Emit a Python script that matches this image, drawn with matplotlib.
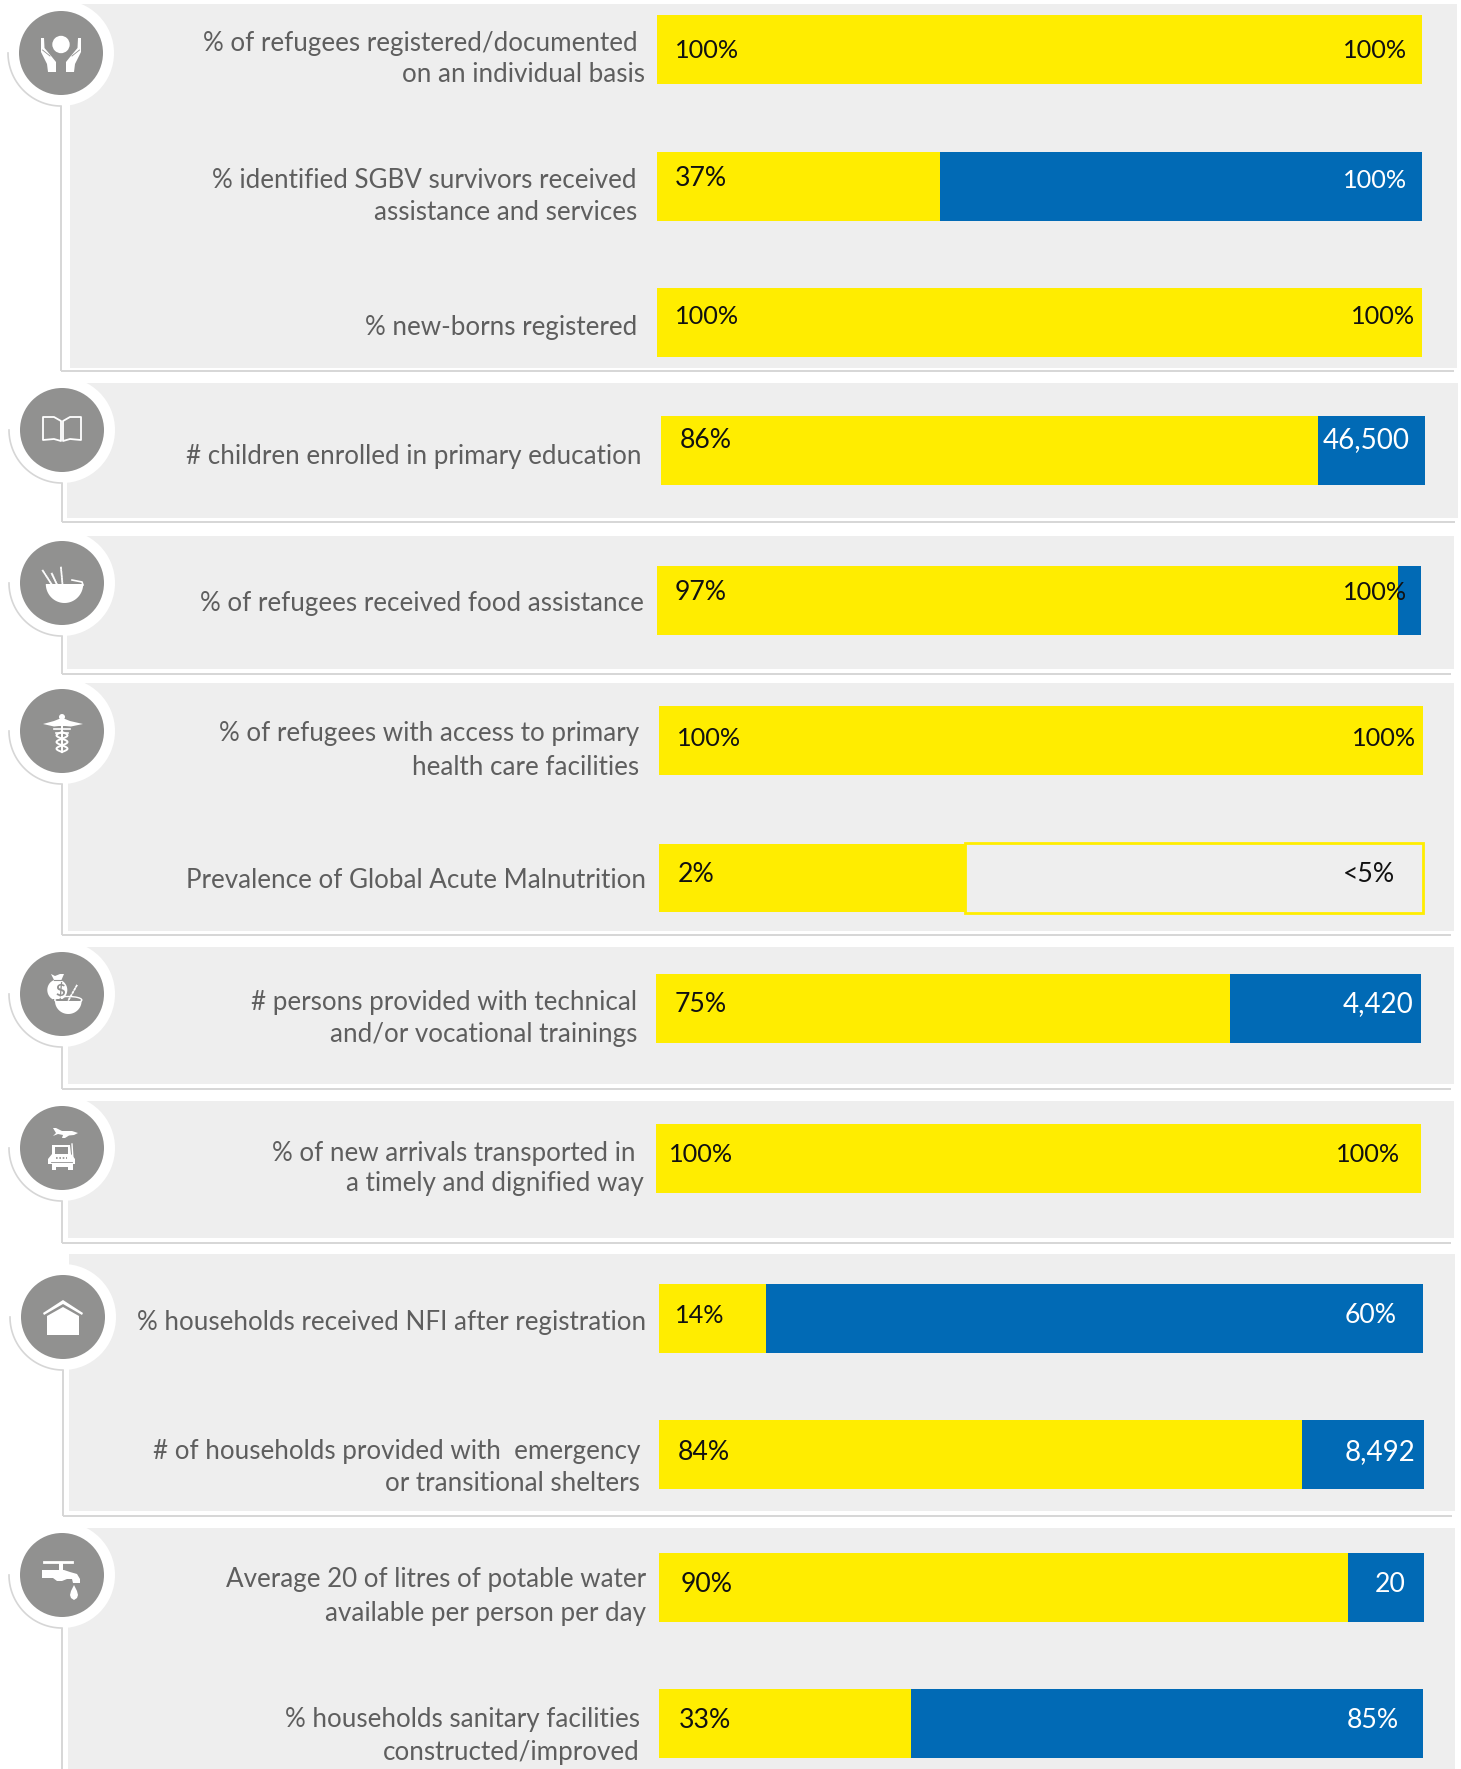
import numpy as np
import matplotlib
matplotlib.use('Agg')
import matplotlib.pyplot as plt
from matplotlib.patches import Circle, Ellipse, Polygon, Rectangle

W, H = 1461, 1769

# achieved value and the scale it is measured against, one entry per indicator
achieved = [100, 37, 100, 86, 97, 100, 2, 75, 100, 14, 84, 90, 33]
scale_max = [100, 100, 100, 100, 100, 100, 5, 100, 100, 100, 100, 100, 100]
left_labels = ['100%', '37%', '100%', '86%', '97%', '100%', '2%', '75%', '100%', '14%', '84%', '90%', '33%']
right_labels = ['100%', '100%', '100%', '46,500', '100%', '100%', '<5%', '4,420', '100%', '60%', '8,492', '20', '85%']
indicator_lines = [
    ['% of refugees registered/documented', 'on an individual basis'],
    ['% identified SGBV survivors received', 'assistance and services'],
    ['% new-borns registered'],
    ['# children enrolled in primary education'],
    ['% of refugees received food assistance'],
    ['% of refugees with access to primary', 'health care facilities'],
    ['Prevalence of Global Acute Malnutrition'],
    ['# persons provided with technical', 'and/or vocational trainings'],
    ['% of new arrivals transported in', 'a timely and dignified way'],
    ['% households received NFI after registration'],
    ['# of households provided with  emergency', 'or transitional shelters'],
    ['Average 20 of litres of potable water', 'available per person per day'],
    ['% households sanitary facilities', 'constructed/improved'],
]

YELLOW = '#FFED00'
BLUE = '#016AB5'
PANEL = '#EEEEEE'
DISC = '#919190'
RULE = '#D6D6D6'
TEXT = '#5E5E5E'

# pixel layout of the bars: left, right, top, bottom
bar_boxes = [
    (657, 1422, 15, 84), (657, 1422, 152, 221), (657, 1422, 288, 357),
    (661, 1425, 416, 485), (657, 1421, 566, 635), (659, 1423, 706, 775),
    (659, 1423, 844, 912), (656, 1421, 974, 1043), (656, 1421, 1124, 1193),
    (659, 1423, 1284, 1353), (659, 1424, 1420, 1489), (659, 1424, 1553, 1622),
    (659, 1423, 1689, 1758),
]
# right end and centre height of every text line
line_pos = [
    [(638, 43), (645, 75)], [(637, 180), (637, 212)], [(637, 327)], [(641, 456)],
    [(644, 604)], [(639, 734), (639, 767)], [(646, 881)], [(637, 1002), (637, 1034)],
    [(636, 1153), (644, 1184)], [(646, 1322)], [(640, 1451), (640, 1483)],
    [(646, 1580), (646, 1613)], [(640, 1719), (640, 1752)],
]
left_pos = [(675, 50), (675, 179), (675, 316), (680, 440), (675, 592), (677, 739), (678, 874),
            (675, 1004), (669, 1155), (675, 1315), (678, 1452), (681, 1584), (679, 1720)]
right_pos = [(1407, 51), (1407, 181), (1415, 317), (1410, 440), (1407, 592), (1416, 739), (1395, 874),
             (1413, 1004), (1400, 1155), (1397, 1315), (1415, 1452), (1406, 1584), (1399, 1720)]
# section panels: left, right, top, bottom, rule height, disc centre x, disc centre y, icon
sections = [
    (70, 1457, 4, 368, 371, 61, 53, 'hands'),
    (67, 1458, 383, 518, 522, 62, 430, 'book'),
    (67, 1454, 536, 669, 674, 62, 583, 'bowl'),
    (68, 1454, 683, 931, 935, 62, 731, 'caduceus'),
    (68, 1454, 947, 1084, 1089, 62, 994, 'bag'),
    (68, 1454, 1101, 1238, 1243, 62, 1148, 'truck'),
    (69, 1455, 1254, 1511, 1516, 63, 1317, 'house'),
    (68, 1455, 1528, 1769, None, 62, 1575, 'tap'),
]

plt.rcParams['font.family'] = ['Lato', 'DejaVu Sans']

fig = plt.figure(figsize=(W / 100, H / 100), dpi=100, facecolor='white')
bg = fig.add_axes([0, 0, 1, 1], zorder=0)
bg.set_xlim(0, W)
bg.set_ylim(H, 0)
bg.axis('off')


def poly(cx, cy, pts, color='white', z=6):
    bg.add_patch(Polygon([(cx + x, cy + y) for x, y in pts], closed=True, fc=color, ec='none', zorder=z))


def wheat(cx, cy, x0, y0, x1, y1, n=8):
    # a wheat ear is a stem with a row of small grains on it
    bg.plot([cx + x0, cx + x1], [cy + y0, cy + y1], color='white', lw=0.6, zorder=6)
    angle = np.degrees(np.arctan2(y1 - y0, x1 - x0))
    for t in np.linspace(0.15, 1, n):
        x = cx + x0 + (x1 - x0) * t
        y = cy + y0 + (y1 - y0) * t
        for tilt in (30, -30):
            bg.add_patch(Ellipse((x, y), 3.2, 1.3, angle=angle + tilt, fc='white', ec='none', alpha=0.85, zorder=6))


def half_bowl(cx, cy, rx, ry, color='white', z=6):
    t = np.linspace(0, np.pi, 40)
    poly(cx, cy, [(rx * np.cos(a), ry * np.sin(a)) for a in t], color=color, z=z)


def draw_icon(kind, cx, cy):
    if kind == 'hands':
        bg.add_patch(Circle((cx, cy - 8.5), 8.7, fc='white', ec='none', zorder=6))
        hand = [(-20, -15), (-17, -15), (-16.5, -5), (-9, 4), (-5, 9), (-5, 19), (-13, 19), (-14, 11), (-20, -1)]
        for sign in (1, -1):
            poly(cx, cy, [(sign * x, y) for x, y in hand])
            bg.plot([cx + sign * -18.5, cx + sign * -11], [cy - 3, cy + 3], color=DISC, lw=0.6, zorder=7)
    elif kind == 'book':
        page = [(-1, -9), (-8, -13), (-19, -13), (-19, 10), (-8, 9), (-1, 11)]
        for sign in (1, -1):
            bg.add_patch(Polygon([(cx + sign * x, cy + y) for x, y in page], closed=True, fc='none', ec='white', lw=1.3,
                                 joinstyle='round', zorder=6))
    elif kind == 'bowl':
        half_bowl(cx + 2.5, cy + 1, 18.7, 19)
        bg.plot([cx + 10, cx + 20, cx + 21], [cy - 3, cy - 1, cy + 2], color='white', lw=1.2, zorder=6)
        wheat(cx, cy, -8, 5, -19, -12)
        wheat(cx, cy, 1, 7, -1, -15)
        wheat(cx, cy, -3, 6, -10, -9)
    elif kind == 'caduceus':
        poly(cx, cy, [(-19, -7), (-8, -10), (-3, -12), (3, -12), (8, -10), (21, -7), (9, -4.5), (3, -5), (-3, -5), (-8, -4.5)])
        bg.add_patch(Circle((cx, cy - 14), 3, fc='white', ec='none', zorder=6))
        bg.plot([cx, cx], [cy - 12, cy + 21], color='white', lw=1.4, zorder=6)
        bg.plot([cx - 8, cx + 8], [cy - 2.5, cy - 2.5], color='white', lw=1.2, zorder=6)
        bg.plot([cx - 6, cx + 6], [cy + 2, cy + 2], color='white', lw=1.2, zorder=6)
        t = np.linspace(0, 1, 60)
        for sign in (1, -1):
            bg.plot(cx + sign * 5.5 * np.sin(t * 3 * np.pi), cy + 1 + 20 * t, color='white', lw=1.4, zorder=6)
    elif kind == 'bag':
        bg.add_patch(Ellipse((cx - 4.7, cy - 4), 20, 21, fc='white', ec='none', zorder=6))
        poly(cx, cy, [(-11, -20), (-7, -18), (-2, -20), (2, -20), (-1, -13), (-7.5, -13)])
        bg.plot([cx - 8, cx - 1], [cy - 14.5, cy - 14.5], color=DISC, lw=0.8, zorder=7)
        bg.text(cx - 2, cy - 4, '$', color=DISC, fontsize=12, fontweight='bold', ha='center', va='center', zorder=7)
        half_bowl(cx + 6.3, cy + 5, 15.5, 17, color=DISC)
        bg.add_patch(Ellipse((cx + 6.3, cy + 6), 27, 7, fc='none', ec='white', lw=1, zorder=7))
        half_bowl(cx + 6.3, cy + 7, 13.3, 13, z=7)
        wheat(cx, cy, 6, 7, 14.5, -8, n=5)
    elif kind == 'truck':
        poly(cx, cy, [(-9, -20), (-6, -20), (0, -17), (10, -17), (16, -15), (12, -13), (7, -12.5), (3, -10), (0, -10), (1, -13),
                      (-4, -14), (-9, -12), (-6, -15)])
        poly(cx, cy, [(-10, -3), (8, -3), (9, 6), (13, 11), (13, 16), (11, 16), (11, 22), (6, 22), (6, 19), (-6, 19), (-6, 22),
                      (-10, 22), (-10, 16), (-14, 16), (-14, 11), (-10, 6)])
        poly(cx, cy, [(-7, -1), (6, -1), (6, 6), (-7, 6)], color=DISC, z=7)
        bg.plot([cx + 10, cx + 11], [cy - 4, cy + 12], color='white', lw=1, zorder=6)
        bg.plot([cx - 6, cx + 5], [cy + 10, cy + 10], color=DISC, lw=1.2, ls=(0, (1, 1)), zorder=7)
        bg.plot([cx - 11, cx + 10], [cy + 14, cy + 14], color=DISC, lw=0.6, zorder=7)
    elif kind == 'house':
        poly(cx, cy, [(0, -17), (20, -4), (19, -2), (0, -13), (-19, -2), (-20, -4)])
        poly(cx, cy, [(0, -10), (16, -1), (16, 18), (-16, 18), (-16, -1)])
    elif kind == 'tap':
        bg.plot([cx - 18, cx + 10], [cy - 13, cy - 13], color='white', lw=2, zorder=6)
        poly(cx, cy, [(-3, -13), (1, -13), (1, -5), (-3, -5)])
        poly(cx, cy, [(-20, -5), (2, -5), (8, -3), (15, -1), (18, 4), (18, 8), (11, 8), (10, 4), (5, 4), (0, 6), (-5, 6), (-9, 3), (-20, 3)])
        poly(cx, cy, [(12, 10), (15, 16), (16, 20), (15, 23), (12, 25), (9, 23), (8, 20), (9, 16)])


for i, (x0, x1, top, bottom, rule_y, cx, cy, icon) in enumerate(sections):
    bg.add_patch(Rectangle((x0, top), x1 - x0, bottom - top, fc=PANEL, ec='none', zorder=1))
    line_end = rule_y if rule_y is not None else H
    bg.plot([cx, cx], [cy + 52, line_end], color=RULE, lw=1.4, zorder=2, solid_capstyle='butt')
    if rule_y is not None:
        bg.plot([cx, x1 - 3], [rule_y, rule_y], color=RULE, lw=1.4, zorder=2, solid_capstyle='butt')
    bg.add_patch(Circle((cx, cy), 53, fc='white', ec='none', zorder=3))
    t = np.linspace(np.pi / 2, np.pi, 60)
    bg.plot(cx + 53 * np.cos(t), cy + 53 * np.sin(t), color=RULE, lw=1.2, zorder=4)
    bg.add_patch(Circle((cx, cy), 42, fc=DISC, ec='none', zorder=5))
    draw_icon(icon, cx, cy)

# one small axes per indicator, running from 0 to 100% of its scale
for i, (x0, x1, top, bottom) in enumerate(bar_boxes):
    ax = fig.add_axes([x0 / W, 1 - bottom / H, (x1 - x0) / W, (bottom - top) / H], zorder=1)
    ax.set_xlim(0, 100)
    ax.set_ylim(0, 1)
    ax.axis('off')
    share = achieved[i] / scale_max[i] * 100
    if i == 6:
        ax.barh(0.5, 100 - share, left=share, height=1.02, fc='none', ec=YELLOW, lw=2, clip_on=False, zorder=3)
    else:
        ax.barh(0.5, 100 - share, left=share, height=1, color=BLUE)
    ax.barh(0.5, share, height=1, color=YELLOW)

for lines, positions in zip(indicator_lines, line_pos):
    for line, (x, y) in zip(lines, positions):
        fig.text(x / W, 1 - y / H, line, ha='right', va='center', fontsize=18.7, color=TEXT)


def label_size(label):
    # the figure one is narrow in these labels, so the others run a little larger
    if ',' in label:
        return 20
    return 18.2 if '1' in label else 19.2


for i in range(len(achieved)):
    x, y = left_pos[i]
    fig.text(x / W, 1 - y / H, left_labels[i], ha='left', va='center', fontsize=label_size(left_labels[i]), color='#111111')
    x, y = right_pos[i]
    on_blue = right_labels[i] != '<5%' and achieved[i] < scale_max[i] and i != 4
    fig.text(x / W, 1 - y / H, right_labels[i], ha='right', va='center', fontsize=label_size(right_labels[i]),
             color='white' if on_blue else '#111111')

fig.savefig('out.png', dpi=100)
